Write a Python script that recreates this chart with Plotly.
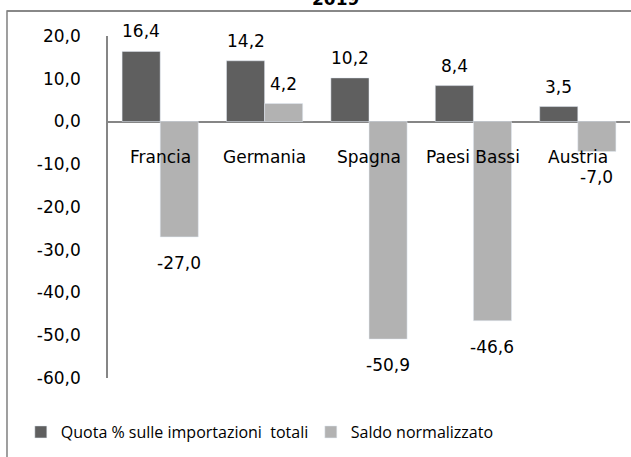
import plotly.graph_objects as go

TITLE = "2019"
CATEGORIES = ["Francia", "Germania", "Spagna", "Paesi Bassi", "Austria"]
QUOTA = [16.4, 14.2, 10.2, 8.4, 3.5]
SALDO = [-27.0, 4.2, -50.9, -46.6, -7.0]
SERIES_NAMES = ["Quota % sulle importazioni  totali", "Saldo normalizzato"]
TICK_VALUES = [20, 10, 0, -10, -20, -30, -40, -50, -60]

DARK = "#5f5f5f"
LIGHT = "#b2b2b2"
AXIS_COLOR = "#868686"
FONT = "DejaVu Sans"


def fmt(v: float) -> str:
    # virgola decimale e trattino semplice come nell'originale
    return f"{v:.1f}".replace(".", ",")


fig = go.Figure()
fig.add_trace(go.Bar(x=CATEGORIES, y=QUOTA, name=SERIES_NAMES[0], marker_color=DARK, hoverinfo="skip"))
fig.add_trace(go.Bar(x=CATEGORIES, y=SALDO, name=SERIES_NAMES[1], marker_color=LIGHT, hoverinfo="skip"))

# etichette dei valori (sopra le barre positive, sotto quelle negative)
for values, shift in ((QUOTA, -19), (SALDO, 19)):
    for cat, v in zip(CATEGORIES, values):
        fig.add_annotation(
            x=cat, y=v, text=fmt(v), showarrow=False,
            xshift=shift, yshift=20 if v >= 0 else -26,
            font=dict(family=FONT, size=17, color="#000000"),
        )

# nomi delle categorie subito sotto la linea dello zero
for cat in CATEGORIES:
    fig.add_annotation(
        x=cat, y=0, text=cat, showarrow=False, yshift=-35,
        font=dict(family=FONT, size=17, color="#000000"),
    )

# titolo tagliato in alto
fig.add_annotation(
    xref="paper", yref="paper", x=0.435, y=1.073, yanchor="bottom",
    text=f"<b>{TITLE}</b>", showarrow=False,
    font=dict(family=FONT, size=17, color="#000000"),
)

# bordo del grafico (solo i lati sinistro e superiore sono visibili)
fig.add_shape(type="rect", xref="paper", yref="paper", x0=-0.1935, x1=1.2, y0=-0.4, y1=1.073,
              line=dict(color="#808080", width=1.5), fillcolor="rgba(0,0,0,0)", layer="above")
fig.add_shape(type="line", xref="paper", yref="paper", x0=-0.1935, x1=1.02, y0=1.073, y1=1.073,
              line=dict(color="#808080", width=1.5), layer="above")

fig.update_layout(
    width=631,
    height=457,
    barmode="group",
    bargap=0.27,
    bargroupgap=0,
    plot_bgcolor="#ffffff",
    paper_bgcolor="#ffffff",
    margin=dict(l=108, r=1, t=36, b=79),
    font=dict(family=FONT, size=16, color="#000000"),
    xaxis=dict(showticklabels=False, showgrid=False, ticks="", showline=False, zeroline=False),
    yaxis=dict(
        range=[-60, 20], tickvals=TICK_VALUES, ticktext=[fmt(v) for v in TICK_VALUES],
        showgrid=False, zeroline=True, zerolinecolor=AXIS_COLOR, zerolinewidth=1.5,
        showline=True, linecolor=AXIS_COLOR, linewidth=1.5,
        ticks="", ticklabelstandoff=22,
        tickfont=dict(family=FONT, size=17, color="#000000"),
    ),
    legend=dict(
        orientation="h", x=-0.167, xanchor="left", y=-0.158, yanchor="middle",
        font=dict(family="Open Sans", size=16, color="#000000"),
        itemwidth=30, entrywidth=245, traceorder="normal",
    ),
)

fig.write_html(
    "out.html",
    config={"displayModeBar": False},
    post_script="document.body.style.margin='0';",
)
